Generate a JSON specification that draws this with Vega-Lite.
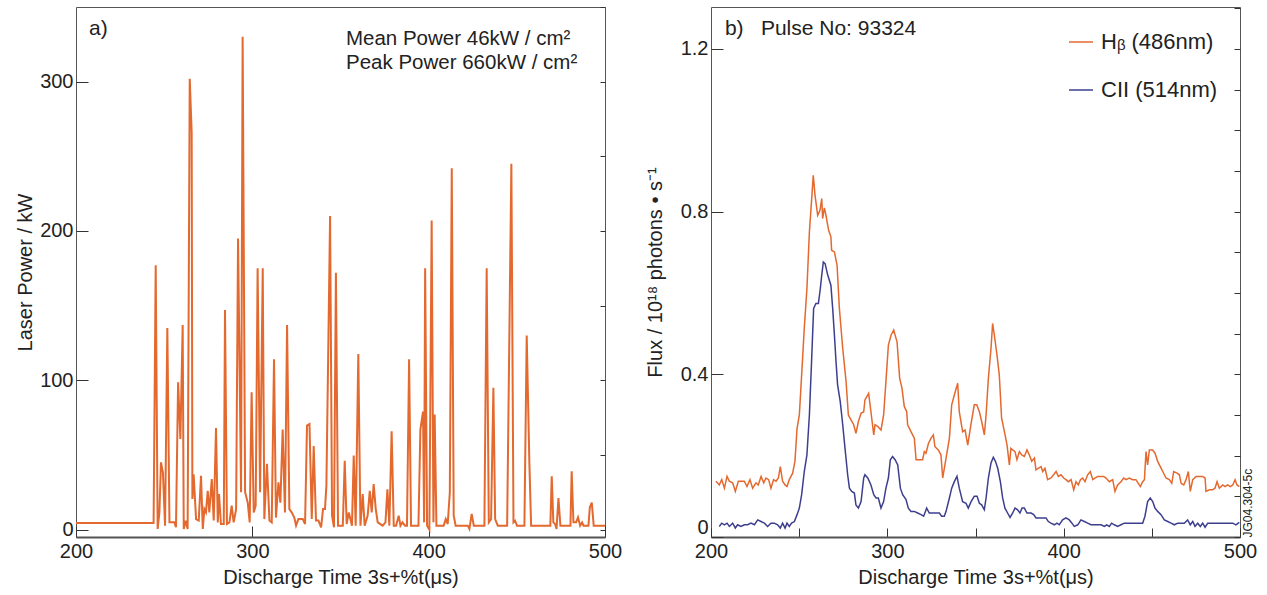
{
"$schema": "https://vega.github.io/schema/vega-lite/v6.json",
"background": "white",
"padding": {"left": 15, "top": 6, "right": 5, "bottom": 5},
"resolve": {"scale": {"color": "independent"}, "legend": {"color": "independent"}},
"config": {
  "font": "Liberation Sans",
  "view": {"stroke": "#555", "strokeWidth": 1},
  "axis": {"labelFont": "Liberation Sans", "titleFont": "Liberation Sans", "labelFontSize": 20, "titleFontSize": 20, "titleFontWeight": "normal", "labelColor": "#222", "titleColor": "#222", "grid": false, "domain": false, "tickColor": "#333", "tickWidth": 1},
  "legend": {"labelFont": "Liberation Sans"},
  "text": {"font": "Liberation Sans"}
},
"datasets": {
  "laser": [
    {"t":200,"p":4.4},{"t":244,"p":4.4},{"t":245.2,"p":177},{"t":246.3,"p":0.4},{"t":247.3,"p":11.5},{"t":248.2,"p":45},{"t":249.3,"p":38},{"t":250.5,"p":2.6},{"t":251.8,"p":135},{"t":253,"p":4.8},{"t":255.8,"p":4.8},{"t":256.7,"p":1.5},{"t":257.9,"p":98.6},{"t":259.2,"p":60.6},{"t":260.5,"p":137},{"t":261.1,"p":0.4},{"t":262.2,"p":5.9},{"t":263.3,"p":0.4},{"t":264.5,"p":302},{"t":265.6,"p":266},{"t":266,"p":20.5},{"t":266.7,"p":37},{"t":268.1,"p":7},{"t":269.6,"p":6},{"t":270.9,"p":36},{"t":271.9,"p":0.4},{"t":272.8,"p":13.7},{"t":273.7,"p":11.5},{"t":274.7,"p":26},{"t":275.6,"p":11.5},{"t":277,"p":33.8},{"t":278.1,"p":6},{"t":279.4,"p":68},{"t":280.4,"p":4.8},{"t":281.1,"p":23.8},{"t":282.2,"p":3.7},{"t":283.8,"p":3.7},{"t":284.5,"p":147},{"t":285.6,"p":3.7},{"t":287,"p":4.8},{"t":288.3,"p":16},{"t":289.4,"p":4.8},{"t":290.8,"p":13.7},{"t":291.9,"p":195},{"t":293.6,"p":25},{"t":294.5,"p":330},{"t":295.9,"p":25},{"t":297.4,"p":18},{"t":298.5,"p":4.8},{"t":299.6,"p":92},{"t":300.8,"p":11.5},{"t":301.9,"p":16},{"t":303,"p":175},{"t":304.4,"p":25},{"t":305.9,"p":175},{"t":306.8,"p":7},{"t":308.3,"p":44},{"t":309.7,"p":6},{"t":311,"p":4.8},{"t":312.3,"p":114},{"t":313.4,"p":8},{"t":314.8,"p":31.6},{"t":315.9,"p":18},{"t":317.2,"p":67},{"t":318.5,"p":11.5},{"t":319.7,"p":137},{"t":321,"p":13.7},{"t":322.3,"p":11.5},{"t":323.8,"p":8},{"t":324.8,"p":2.6},{"t":326.1,"p":7},{"t":328.6,"p":7},{"t":329.9,"p":3.7},{"t":331,"p":69.6},{"t":332.4,"p":70.7},{"t":333.7,"p":7},{"t":334.8,"p":56},{"t":336.1,"p":6},{"t":337.5,"p":6},{"t":339,"p":1.5},{"t":340.1,"p":13.7},{"t":341.2,"p":13.7},{"t":342,"p":29.4},{"t":344.1,"p":210},{"t":345.2,"p":9.3},{"t":346.3,"p":1.5},{"t":347.4,"p":172},{"t":348.6,"p":2.6},{"t":351.3,"p":2.6},{"t":352.4,"p":46},{"t":353.5,"p":3.7},{"t":354.7,"p":11.5},{"t":355.6,"p":7},{"t":356.5,"p":2.6},{"t":357.5,"p":49.5},{"t":358.6,"p":2.6},{"t":360.1,"p":117.6},{"t":361.3,"p":2.6},{"t":362.6,"p":23.8},{"t":363.7,"p":2.6},{"t":365.4,"p":9.3},{"t":366.6,"p":26},{"t":367.7,"p":11.5},{"t":368.8,"p":30.5},{"t":370,"p":13.7},{"t":371.1,"p":4.8},{"t":373.9,"p":2.6},{"t":375.5,"p":4.8},{"t":376.6,"p":27},{"t":377.7,"p":2.6},{"t":379,"p":65.8},{"t":380.2,"p":2.6},{"t":381.5,"p":2.6},{"t":383,"p":9.3},{"t":384,"p":2.6},{"t":385.1,"p":4.8},{"t":386.6,"p":2.6},{"t":387.7,"p":2.6},{"t":388.9,"p":114},{"t":390,"p":2.6},{"t":394.2,"p":2.6},{"t":395.3,"p":67},{"t":396.8,"p":79},{"t":397.4,"p":4.8},{"t":398,"p":175},{"t":399.1,"p":2.6},{"t":400.4,"p":0},{"t":401.7,"p":207},{"t":402.7,"p":4.8},{"t":403.4,"p":77},{"t":404.4,"p":2.6},{"t":408.5,"p":2.6},{"t":409.7,"p":7},{"t":410.8,"p":3.7},{"t":412,"p":25},{"t":413.1,"p":242},{"t":414.2,"p":9.3},{"t":415.3,"p":2.6},{"t":422.2,"p":2.6},{"t":423.1,"p":0.4},{"t":424.4,"p":10.4},{"t":425.6,"p":2.6},{"t":431.6,"p":2.6},{"t":432.9,"p":175},{"t":434.1,"p":4.8},{"t":435.4,"p":7},{"t":436.7,"p":95},{"t":437.7,"p":7},{"t":439.2,"p":2.6},{"t":444.5,"p":2.6},{"t":446.9,"p":245},{"t":448.1,"p":4.8},{"t":449,"p":5.9},{"t":450.1,"p":2.6},{"t":454.3,"p":2.6},{"t":455.6,"p":130},{"t":457.1,"p":45},{"t":458.1,"p":2.6},{"t":469,"p":2.6},{"t":469.8,"p":35.6},{"t":470.7,"p":4.8},{"t":471.7,"p":3.7},{"t":472.5,"p":0.4},{"t":473.6,"p":21},{"t":474.7,"p":2.6},{"t":480.4,"p":2.6},{"t":481.1,"p":39},{"t":482.1,"p":4.8},{"t":483.6,"p":4.8},{"t":484.7,"p":8.2},{"t":485.9,"p":2.6},{"t":487,"p":4.8},{"t":487.8,"p":2.6},{"t":490.6,"p":2.6},{"t":491.4,"p":15},{"t":492.5,"p":18},{"t":493.6,"p":2.6},{"t":500,"p":2.6}
  ],
  "spec": [
    {"s":"Hb","t":202.8,"v":0.137},{"s":"Hb","t":204.7,"v":0.128},{"s":"Hb","t":206.1,"v":0.141},{"s":"Hb","t":207.6,"v":0.120},{"s":"Hb","t":209.1,"v":0.149},{"s":"Hb","t":210.4,"v":0.137},{"s":"Hb","t":212.3,"v":0.133},{"s":"Hb","t":213.8,"v":0.112},{"s":"Hb","t":215.5,"v":0.137},{"s":"Hb","t":217,"v":0.137},{"s":"Hb","t":218.9,"v":0.137},{"s":"Hb","t":220.4,"v":0.124},{"s":"Hb","t":222.1,"v":0.141},{"s":"Hb","t":223.6,"v":0.120},{"s":"Hb","t":225.5,"v":0.133},{"s":"Hb","t":226.8,"v":0.128},{"s":"Hb","t":228.4,"v":0.149},{"s":"Hb","t":229.9,"v":0.133},{"s":"Hb","t":231.2,"v":0.145},{"s":"Hb","t":232.7,"v":0.141},{"s":"Hb","t":234,"v":0.120},{"s":"Hb","t":235.5,"v":0.141},{"s":"Hb","t":236.9,"v":0.137},{"s":"Hb","t":238.2,"v":0.145},{"s":"Hb","t":239.3,"v":0.173},{"s":"Hb","t":240.6,"v":0.137},{"s":"Hb","t":242,"v":0.128},{"s":"Hb","t":243.1,"v":0.124},{"s":"Hb","t":244.4,"v":0.141},{"s":"Hb","t":246.3,"v":0.157},{"s":"Hb","t":247.6,"v":0.186},{"s":"Hb","t":248.8,"v":0.267},{"s":"Hb","t":250.1,"v":0.300},{"s":"Hb","t":251.4,"v":0.398},{"s":"Hb","t":252.9,"v":0.513},{"s":"Hb","t":254.4,"v":0.611},{"s":"Hb","t":255.8,"v":0.750},{"s":"Hb","t":257.1,"v":0.832},{"s":"Hb","t":258,"v":0.889},{"s":"Hb","t":259,"v":0.840},{"s":"Hb","t":260.5,"v":0.791},{"s":"Hb","t":261.8,"v":0.803},{"s":"Hb","t":262.8,"v":0.832},{"s":"Hb","t":263.3,"v":0.783},{"s":"Hb","t":264.3,"v":0.809},{"s":"Hb","t":265.2,"v":0.791},{"s":"Hb","t":266.7,"v":0.754},{"s":"Hb","t":268,"v":0.738},{"s":"Hb","t":268.4,"v":0.705},{"s":"Hb","t":270,"v":0.701},{"s":"Hb","t":271.5,"v":0.668},{"s":"Hb","t":272.8,"v":0.562},{"s":"Hb","t":274.7,"v":0.464},{"s":"Hb","t":276.6,"v":0.382},{"s":"Hb","t":277.9,"v":0.300},{"s":"Hb","t":279.4,"v":0.288},{"s":"Hb","t":280.9,"v":0.276},{"s":"Hb","t":282.2,"v":0.255},{"s":"Hb","t":283.6,"v":0.284},{"s":"Hb","t":285.1,"v":0.304},{"s":"Hb","t":286.6,"v":0.308},{"s":"Hb","t":287.3,"v":0.337},{"s":"Hb","t":289.4,"v":0.353},{"s":"Hb","t":290.7,"v":0.308},{"s":"Hb","t":292.3,"v":0.251},{"s":"Hb","t":293,"v":0.276},{"s":"Hb","t":294.5,"v":0.272},{"s":"Hb","t":296.4,"v":0.263},{"s":"Hb","t":297.9,"v":0.300},{"s":"Hb","t":299.2,"v":0.382},{"s":"Hb","t":300.6,"v":0.472},{"s":"Hb","t":302.1,"v":0.496},{"s":"Hb","t":303.6,"v":0.509},{"s":"Hb","t":305.5,"v":0.480},{"s":"Hb","t":307,"v":0.390},{"s":"Hb","t":308.3,"v":0.366},{"s":"Hb","t":309.6,"v":0.321},{"s":"Hb","t":311,"v":0.308},{"s":"Hb","t":311.5,"v":0.276},{"s":"Hb","t":313.4,"v":0.259},{"s":"Hb","t":315.3,"v":0.243},{"s":"Hb","t":316.3,"v":0.190},{"s":"Hb","t":318.2,"v":0.190},{"s":"Hb","t":320,"v":0.190},{"s":"Hb","t":321,"v":0.210},{"s":"Hb","t":321.9,"v":0.206},{"s":"Hb","t":323.3,"v":0.230},{"s":"Hb","t":324.8,"v":0.243},{"s":"Hb","t":326.1,"v":0.251},{"s":"Hb","t":327,"v":0.222},{"s":"Hb","t":328.9,"v":0.214},{"s":"Hb","t":330.4,"v":0.202},{"s":"Hb","t":331.4,"v":0.145},{"s":"Hb","t":333.3,"v":0.194},{"s":"Hb","t":335.2,"v":0.243},{"s":"Hb","t":336.5,"v":0.325},{"s":"Hb","t":338,"v":0.349},{"s":"Hb","t":339.9,"v":0.378},{"s":"Hb","t":340.8,"v":0.308},{"s":"Hb","t":342.7,"v":0.259},{"s":"Hb","t":344.1,"v":0.263},{"s":"Hb","t":345.6,"v":0.226},{"s":"Hb","t":347.4,"v":0.276},{"s":"Hb","t":349.3,"v":0.325},{"s":"Hb","t":350.7,"v":0.325},{"s":"Hb","t":352.2,"v":0.308},{"s":"Hb","t":353.5,"v":0.284},{"s":"Hb","t":355,"v":0.251},{"s":"Hb","t":356,"v":0.300},{"s":"Hb","t":357.3,"v":0.390},{"s":"Hb","t":358.8,"v":0.464},{"s":"Hb","t":359.7,"v":0.525},{"s":"Hb","t":360.7,"v":0.496},{"s":"Hb","t":362.2,"v":0.447},{"s":"Hb","t":363.5,"v":0.398},{"s":"Hb","t":364.8,"v":0.292},{"s":"Hb","t":366.4,"v":0.259},{"s":"Hb","t":367.9,"v":0.226},{"s":"Hb","t":369.2,"v":0.177},{"s":"Hb","t":370.1,"v":0.218},{"s":"Hb","t":371.1,"v":0.214},{"s":"Hb","t":372.4,"v":0.210},{"s":"Hb","t":373.5,"v":0.190},{"s":"Hb","t":374.9,"v":0.210},{"s":"Hb","t":376.2,"v":0.202},{"s":"Hb","t":377.7,"v":0.198},{"s":"Hb","t":379.2,"v":0.214},{"s":"Hb","t":380.5,"v":0.202},{"s":"Hb","t":381.9,"v":0.186},{"s":"Hb","t":383.4,"v":0.194},{"s":"Hb","t":384.3,"v":0.165},{"s":"Hb","t":385.6,"v":0.169},{"s":"Hb","t":387.2,"v":0.173},{"s":"Hb","t":388.1,"v":0.161},{"s":"Hb","t":389.4,"v":0.169},{"s":"Hb","t":390.9,"v":0.141},{"s":"Hb","t":392.8,"v":0.145},{"s":"Hb","t":394.3,"v":0.153},{"s":"Hb","t":395.7,"v":0.161},{"s":"Hb","t":397,"v":0.149},{"s":"Hb","t":398.5,"v":0.153},{"s":"Hb","t":400,"v":0.145},{"s":"Hb","t":401.3,"v":0.141},{"s":"Hb","t":402.7,"v":0.136},{"s":"Hb","t":404.2,"v":0.141},{"s":"Hb","t":405.7,"v":0.116},{"s":"Hb","t":407,"v":0.136},{"s":"Hb","t":408.3,"v":0.128},{"s":"Hb","t":409.5,"v":0.141},{"s":"Hb","t":410.8,"v":0.145},{"s":"Hb","t":412.1,"v":0.136},{"s":"Hb","t":413.6,"v":0.153},{"s":"Hb","t":415.1,"v":0.161},{"s":"Hb","t":416.5,"v":0.141},{"s":"Hb","t":417.8,"v":0.145},{"s":"Hb","t":419.3,"v":0.149},{"s":"Hb","t":420.8,"v":0.149},{"s":"Hb","t":422.7,"v":0.149},{"s":"Hb","t":424,"v":0.145},{"s":"Hb","t":425.9,"v":0.136},{"s":"Hb","t":427.8,"v":0.141},{"s":"Hb","t":429.1,"v":0.112},{"s":"Hb","t":430.6,"v":0.128},{"s":"Hb","t":432.5,"v":0.136},{"s":"Hb","t":434,"v":0.145},{"s":"Hb","t":435.4,"v":0.141},{"s":"Hb","t":437.2,"v":0.145},{"s":"Hb","t":439.1,"v":0.141},{"s":"Hb","t":441,"v":0.141},{"s":"Hb","t":442.3,"v":0.132},{"s":"Hb","t":443.5,"v":0.124},{"s":"Hb","t":444.8,"v":0.136},{"s":"Hb","t":445.8,"v":0.141},{"s":"Hb","t":446.7,"v":0.210},{"s":"Hb","t":447.6,"v":0.177},{"s":"Hb","t":448.6,"v":0.214},{"s":"Hb","t":450.5,"v":0.214},{"s":"Hb","t":451.8,"v":0.206},{"s":"Hb","t":453.3,"v":0.186},{"s":"Hb","t":454.8,"v":0.173},{"s":"Hb","t":456.2,"v":0.161},{"s":"Hb","t":458,"v":0.145},{"s":"Hb","t":459.9,"v":0.141},{"s":"Hb","t":461.3,"v":0.132},{"s":"Hb","t":462.4,"v":0.161},{"s":"Hb","t":464.3,"v":0.157},{"s":"Hb","t":465.6,"v":0.153},{"s":"Hb","t":466.6,"v":0.132},{"s":"Hb","t":468.1,"v":0.128},{"s":"Hb","t":469.4,"v":0.141},{"s":"Hb","t":470.7,"v":0.161},{"s":"Hb","t":471.8,"v":0.112},{"s":"Hb","t":473.2,"v":0.141},{"s":"Hb","t":475.1,"v":0.149},{"s":"Hb","t":477,"v":0.149},{"s":"Hb","t":478.8,"v":0.149},{"s":"Hb","t":480.2,"v":0.145},{"s":"Hb","t":480.7,"v":0.112},{"s":"Hb","t":482.6,"v":0.116},{"s":"Hb","t":484.5,"v":0.116},{"s":"Hb","t":485.8,"v":0.120},{"s":"Hb","t":487,"v":0.136},{"s":"Hb","t":488.3,"v":0.120},{"s":"Hb","t":490.2,"v":0.128},{"s":"Hb","t":491.5,"v":0.124},{"s":"Hb","t":493,"v":0.128},{"s":"Hb","t":494.5,"v":0.124},{"s":"Hb","t":495.9,"v":0.128},{"s":"Hb","t":497.2,"v":0.141},{"s":"Hb","t":498.3,"v":0.128},{"s":"Hb","t":499.6,"v":0.124},
    {"s":"CII","t":204.7,"v":0.026},{"s":"CII","t":206.1,"v":0.034},{"s":"CII","t":207.6,"v":0.030},{"s":"CII","t":209.1,"v":0.034},{"s":"CII","t":210.4,"v":0.026},{"s":"CII","t":212.3,"v":0.034},{"s":"CII","t":213.8,"v":0.022},{"s":"CII","t":215.1,"v":0.030},{"s":"CII","t":217,"v":0.026},{"s":"CII","t":218.9,"v":0.030},{"s":"CII","t":220.8,"v":0.030},{"s":"CII","t":222.7,"v":0.034},{"s":"CII","t":224.6,"v":0.030},{"s":"CII","t":226.5,"v":0.042},{"s":"CII","t":228.4,"v":0.038},{"s":"CII","t":230.3,"v":0.034},{"s":"CII","t":232.1,"v":0.026},{"s":"CII","t":234,"v":0.034},{"s":"CII","t":235.9,"v":0.034},{"s":"CII","t":237.8,"v":0.030},{"s":"CII","t":239.3,"v":0.022},{"s":"CII","t":240.6,"v":0.034},{"s":"CII","t":242,"v":0.022},{"s":"CII","t":243.1,"v":0.034},{"s":"CII","t":244.4,"v":0.026},{"s":"CII","t":245.7,"v":0.034},{"s":"CII","t":247.3,"v":0.038},{"s":"CII","t":248.8,"v":0.055},{"s":"CII","t":250.1,"v":0.071},{"s":"CII","t":251.4,"v":0.104},{"s":"CII","t":252.9,"v":0.161},{"s":"CII","t":254.4,"v":0.202},{"s":"CII","t":255.8,"v":0.300},{"s":"CII","t":257.1,"v":0.439},{"s":"CII","t":258.2,"v":0.562},{"s":"CII","t":259.5,"v":0.574},{"s":"CII","t":260.9,"v":0.574},{"s":"CII","t":262,"v":0.611},{"s":"CII","t":262.8,"v":0.644},{"s":"CII","t":263.7,"v":0.676},{"s":"CII","t":264.7,"v":0.672},{"s":"CII","t":266.2,"v":0.644},{"s":"CII","t":268,"v":0.619},{"s":"CII","t":269,"v":0.562},{"s":"CII","t":270,"v":0.496},{"s":"CII","t":270.9,"v":0.431},{"s":"CII","t":271.8,"v":0.374},{"s":"CII","t":273.3,"v":0.333},{"s":"CII","t":274.7,"v":0.276},{"s":"CII","t":276,"v":0.218},{"s":"CII","t":277.5,"v":0.153},{"s":"CII","t":278.5,"v":0.120},{"s":"CII","t":279.8,"v":0.112},{"s":"CII","t":281.3,"v":0.108},{"s":"CII","t":282.2,"v":0.079},{"s":"CII","t":283.6,"v":0.071},{"s":"CII","t":285.1,"v":0.087},{"s":"CII","t":286.6,"v":0.145},{"s":"CII","t":287.3,"v":0.153},{"s":"CII","t":288.9,"v":0.145},{"s":"CII","t":290.7,"v":0.128},{"s":"CII","t":292.3,"v":0.104},{"s":"CII","t":293.6,"v":0.096},{"s":"CII","t":294.9,"v":0.096},{"s":"CII","t":296.4,"v":0.071},{"s":"CII","t":297.9,"v":0.087},{"s":"CII","t":299.2,"v":0.120},{"s":"CII","t":300.6,"v":0.145},{"s":"CII","t":301.7,"v":0.190},{"s":"CII","t":303,"v":0.198},{"s":"CII","t":304.4,"v":0.190},{"s":"CII","t":305.9,"v":0.177},{"s":"CII","t":307.4,"v":0.120},{"s":"CII","t":308.7,"v":0.104},{"s":"CII","t":310.6,"v":0.092},{"s":"CII","t":311.9,"v":0.071},{"s":"CII","t":313.4,"v":0.063},{"s":"CII","t":315.3,"v":0.063},{"s":"CII","t":317.2,"v":0.059},{"s":"CII","t":319.1,"v":0.055},{"s":"CII","t":320.6,"v":0.051},{"s":"CII","t":322.3,"v":0.071},{"s":"CII","t":323.8,"v":0.059},{"s":"CII","t":325.7,"v":0.059},{"s":"CII","t":327.6,"v":0.059},{"s":"CII","t":329.5,"v":0.059},{"s":"CII","t":330.8,"v":0.051},{"s":"CII","t":332.3,"v":0.051},{"s":"CII","t":333.3,"v":0.063},{"s":"CII","t":335.2,"v":0.096},{"s":"CII","t":336.5,"v":0.120},{"s":"CII","t":338,"v":0.136},{"s":"CII","t":339.5,"v":0.149},{"s":"CII","t":340.8,"v":0.120},{"s":"CII","t":342.7,"v":0.087},{"s":"CII","t":344.6,"v":0.083},{"s":"CII","t":345.9,"v":0.071},{"s":"CII","t":347.5,"v":0.087},{"s":"CII","t":349.3,"v":0.100},{"s":"CII","t":350.9,"v":0.100},{"s":"CII","t":352.2,"v":0.083},{"s":"CII","t":353.5,"v":0.079},{"s":"CII","t":355,"v":0.067},{"s":"CII","t":356,"v":0.096},{"s":"CII","t":357.3,"v":0.145},{"s":"CII","t":358.8,"v":0.182},{"s":"CII","t":360.1,"v":0.196},{"s":"CII","t":361.3,"v":0.186},{"s":"CII","t":362.6,"v":0.169},{"s":"CII","t":364.1,"v":0.136},{"s":"CII","t":365.4,"v":0.096},{"s":"CII","t":366.7,"v":0.071},{"s":"CII","t":368.2,"v":0.059},{"s":"CII","t":369.6,"v":0.048},{"s":"CII","t":371.1,"v":0.059},{"s":"CII","t":372.4,"v":0.071},{"s":"CII","t":373.9,"v":0.067},{"s":"CII","t":375.2,"v":0.059},{"s":"CII","t":376.4,"v":0.071},{"s":"CII","t":377.7,"v":0.071},{"s":"CII","t":379.2,"v":0.059},{"s":"CII","t":381.5,"v":0.059},{"s":"CII","t":383,"v":0.055},{"s":"CII","t":384.3,"v":0.047},{"s":"CII","t":386.2,"v":0.047},{"s":"CII","t":388.1,"v":0.047},{"s":"CII","t":390,"v":0.047},{"s":"CII","t":391.3,"v":0.038},{"s":"CII","t":392.8,"v":0.034},{"s":"CII","t":394.7,"v":0.030},{"s":"CII","t":396.2,"v":0.034},{"s":"CII","t":397.5,"v":0.030},{"s":"CII","t":399.4,"v":0.042},{"s":"CII","t":401.3,"v":0.047},{"s":"CII","t":403.2,"v":0.042},{"s":"CII","t":404.7,"v":0.034},{"s":"CII","t":406,"v":0.026},{"s":"CII","t":408,"v":0.030},{"s":"CII","t":409.8,"v":0.042},{"s":"CII","t":411.7,"v":0.038},{"s":"CII","t":413.6,"v":0.034},{"s":"CII","t":415.5,"v":0.030},{"s":"CII","t":417.4,"v":0.030},{"s":"CII","t":419.3,"v":0.030},{"s":"CII","t":421.2,"v":0.030},{"s":"CII","t":423.1,"v":0.026},{"s":"CII","t":424.4,"v":0.030},{"s":"CII","t":425.9,"v":0.026},{"s":"CII","t":427.2,"v":0.034},{"s":"CII","t":428.7,"v":0.030},{"s":"CII","t":430.6,"v":0.026},{"s":"CII","t":432.5,"v":0.030},{"s":"CII","t":434.4,"v":0.034},{"s":"CII","t":436.3,"v":0.034},{"s":"CII","t":439.1,"v":0.034},{"s":"CII","t":441.9,"v":0.034},{"s":"CII","t":444.8,"v":0.034},{"s":"CII","t":446.1,"v":0.051},{"s":"CII","t":447.6,"v":0.087},{"s":"CII","t":449.1,"v":0.096},{"s":"CII","t":450.5,"v":0.087},{"s":"CII","t":451.8,"v":0.071},{"s":"CII","t":453.3,"v":0.063},{"s":"CII","t":455.2,"v":0.055},{"s":"CII","t":457.1,"v":0.042},{"s":"CII","t":459,"v":0.038},{"s":"CII","t":460.9,"v":0.034},{"s":"CII","t":462.8,"v":0.030},{"s":"CII","t":464.7,"v":0.034},{"s":"CII","t":466.6,"v":0.034},{"s":"CII","t":468.4,"v":0.034},{"s":"CII","t":470.3,"v":0.042},{"s":"CII","t":471.8,"v":0.030},{"s":"CII","t":473.2,"v":0.038},{"s":"CII","t":474.5,"v":0.026},{"s":"CII","t":476,"v":0.034},{"s":"CII","t":477.5,"v":0.026},{"s":"CII","t":478.8,"v":0.034},{"s":"CII","t":480.2,"v":0.024},{"s":"CII","t":481.7,"v":0.034},{"s":"CII","t":484.5,"v":0.034},{"s":"CII","t":487.3,"v":0.034},{"s":"CII","t":490.2,"v":0.034},{"s":"CII","t":493,"v":0.034},{"s":"CII","t":495.9,"v":0.034},{"s":"CII","t":497.7,"v":0.030},{"s":"CII","t":499.6,"v":0.036}
  ]
},
"spacing": 21,
"hconcat": [
  {
    "width": 529, "height": 530,
    "resolve": {"axis": {"y": "independent"}},
    "layer": [
      {
        "data": {"name": "laser"},
        "mark": {"type": "line", "color": "#E4692F", "strokeWidth": 2},
        "encoding": {
          "x": {"field": "t", "type": "quantitative", "scale": {"domain": [200, 500], "nice": false, "zero": false},
                "axis": {"orient": "bottom", "values": [200, 300, 400, 500], "labelFlush": false, "tickSize": -11, "labelPadding": 15, "title": "Discharge Time 3s+%t(μs)", "titlePadding": 6, "domain": true, "domainColor": "#555", "domainWidth": 2}},
          "y": {"field": "p", "type": "quantitative", "scale": {"domain": [-5, 350], "nice": false, "zero": false},
                "axis": {"orient": "left", "values": [0, 100, 200, 300], "tickSize": -12, "labelPadding": 15, "title": "Laser Power / kW", "titlePadding": 4}}
        }
      },
      {
        "data": {"values": [{}]},
        "mark": {"type": "text", "text": "a)", "align": "left", "baseline": "middle", "fontSize": 21, "color": "#222"},
        "encoding": {"x": {"datum": 207.4, "type": "quantitative"}, "y": {"datum": 335, "type": "quantitative", "axis": null}}
      },
      {
        "data": {"values": [{}]},
        "mark": {"type": "text", "text": "Mean Power 46kW / cm²", "align": "left", "baseline": "middle", "fontSize": 20.5, "color": "#222"},
        "encoding": {"x": {"datum": 353.1, "type": "quantitative"}, "y": {"datum": 328.6, "type": "quantitative", "axis": null}}
      },
      {
        "data": {"values": [{}]},
        "mark": {"type": "text", "text": "Peak Power 660kW / cm²", "align": "left", "baseline": "middle", "fontSize": 20.5, "color": "#222"},
        "encoding": {"x": {"datum": 353.1, "type": "quantitative"},
                     "y": {"datum": 312.5, "type": "quantitative", "axis": {"orient": "right", "values": [0, 50, 100, 150, 200, 250, 300, 350], "tickSize": -5, "labels": false, "title": null}}}
      }
    ]
  },
  {
    "width": 529, "height": 530,
    "resolve": {"axis": {"y": "independent"}},
    "layer": [
      {
        "data": {"name": "spec"},
        "mark": {"type": "line", "strokeWidth": 1.5},
        "encoding": {
          "x": {"field": "t", "type": "quantitative", "scale": {"domain": [200, 500], "nice": false, "zero": false},
                "axis": {"orient": "bottom", "values": [200, 250, 300, 350, 400, 450, 500], "labelFlush": false, "labelExpr": "datum.value % 100 == 0 ? datum.label : ''", "tickSize": -9, "labelPadding": 13, "title": "Discharge Time 3s+%t(μs)", "titlePadding": 6, "domain": true, "domainColor": "#555", "domainWidth": 2}},
          "y": {"field": "v", "type": "quantitative", "scale": {"domain": [0, 1.303], "nice": false, "zero": false},
                "axis": {"orient": "left", "values": [0, 0.4, 0.8, 1.2], "labelExpr": "datum.value == 0 ? '0' : format(datum.value, '.1f')", "labelFlush": true, "tickSize": -12, "labelPadding": 15, "title": "Flux / 10¹⁸ photons • s⁻¹", "titlePadding": 15}},
          "color": {"field": "s", "type": "nominal", "sort": ["Hb", "CII"],
                    "scale": {"domain": ["Hb", "CII"], "range": ["#E4692F", "#3D3F8E"]},
                    "legend": {"orient": "top-right", "offset": 22, "title": null, "labelFontSize": 22, "labelColor": "#222", "symbolType": "stroke", "symbolSize": 576, "symbolStrokeWidth": 1.5, "rowPadding": 24, "labelOffset": 7,
                               "labelExpr": "datum.label == 'Hb' ? 'Hᵦ (486nm)' : 'CII (514nm)'"}}
        }
      },
      {
        "data": {"values": [{}]},
        "mark": {"type": "text", "text": "b)", "align": "left", "baseline": "middle", "fontSize": 21, "color": "#222"},
        "encoding": {"x": {"datum": 207.9, "type": "quantitative"}, "y": {"datum": 1.248, "type": "quantitative", "axis": null}}
      },
      {
        "data": {"values": [{}]},
        "mark": {"type": "text", "text": "Pulse No: 93324", "align": "left", "baseline": "middle", "fontSize": 21, "color": "#222"},
        "encoding": {"x": {"datum": 228.3, "type": "quantitative"},
                     "y": {"datum": 1.248, "type": "quantitative", "axis": {"orient": "right", "values": [0, 0.1, 0.2, 0.3, 0.4, 0.5, 0.6, 0.7, 0.8, 0.9, 1.0, 1.1, 1.2, 1.3], "tickSize": -6, "labels": false, "title": "JG04.304-5c", "titleFontSize": 12, "titleAngle": 270, "titleAnchor": "start", "titlePadding": 14}}}
      }
    ]
  }
]
}
